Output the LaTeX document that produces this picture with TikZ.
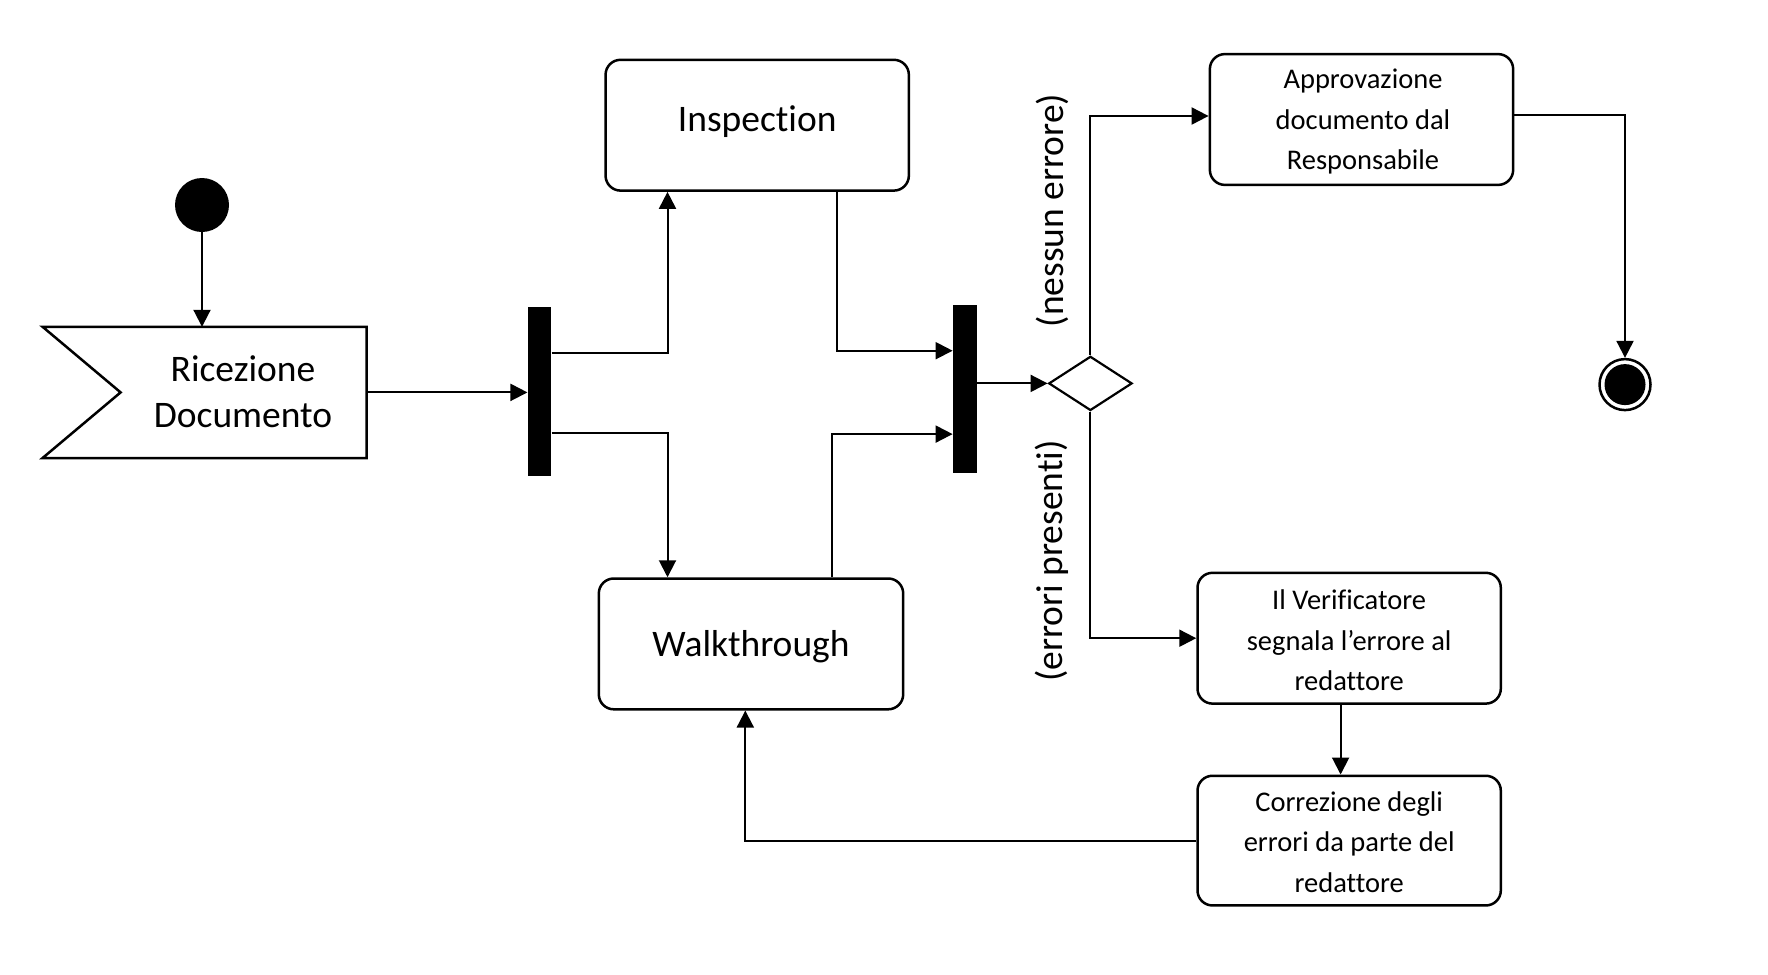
\documentclass[tikz,border=0pt]{standalone}
\usepackage{fontspec}
\setmainfont{Carlito}[Ligatures={NoCommon}]
\usetikzlibrary{arrows.meta,shapes.geometric,calc}
\begin{document}
\begin{tikzpicture}[x=1pt,y=-1pt,
  box/.style={draw,line width=2.5pt,rounded corners=15pt,inner sep=0pt},
  bigtxt/.style={font=\fontsize{37.5}{46}\selectfont,align=center,inner sep=0pt},
  smalltxt/.style={font=\fontsize{28.5}{40.6}\selectfont,align=center,inner sep=0pt},
  bar/.style={fill=black,draw=none,inner sep=0pt,minimum width=23.7pt},
  arr/.style={line width=2pt,-{Triangle[length=17pt,width=17pt]}},
  lbl/.style={rotate=90,font=\fontsize{37.5}{46}\selectfont,inner sep=0pt}]
\useasboundingbox (0,0) rectangle (1768,974);
\fill[white] (0,0) rectangle (1768,974);
% nodes
\node (start) [circle,fill=black,inner sep=0pt,minimum size=54pt] at (202,205) {};
\node (ricbox) [inner sep=0pt,minimum width=323.7pt,minimum height=130.8pt] at (204.65,392.4) {};
\draw[line width=2.5pt] (ricbox.north west) -- (ricbox.north east) -- (ricbox.south east) -- (ricbox.south west) -- ($(ricbox.west)+(78,0)$) -- cycle;
\node (rictext) [bigtxt] at (243,392) {Ricezione\\Documento};
\node (fork1) [bar,minimum height=169pt] at (539.5,391.2) {};
\node (insp) [box,minimum width=303.3pt,minimum height=130.8pt] at (757.2,125.2) {};
\node (insptext) [bigtxt] at ($(insp)+(0,-3.4)$) {Inspection};
\node (walk) [box,minimum width=304.4pt,minimum height=130.8pt] at (751,643.9) {};
\node (walktext) [bigtxt] at ($(walk)+(0,2.3)$) {Walkthrough};
\node (join) [bar,minimum height=168pt] at (964.65,388.5) {};
\node (dia) [diamond,draw,line width=2.2pt,inner sep=0pt,minimum width=83.4pt,minimum height=54.2pt] at (1090.4,383.4) {};
\node (appr) [box,minimum width=303.3pt,minimum height=130.8pt] at (1361.5,119.5) {};
\node (apprtext) [smalltxt] at ($(appr)+(1.5,2.3)$) {Approvazione\\documento dal\\Responsabile};
\node (final) [circle,draw,line width=2.5pt,inner sep=0pt,minimum size=51pt,
  path picture={\fill[black] (path picture bounding box.center) circle (20.5);}] at (1625,384.6) {};
\node (veri) [box,minimum width=303.3pt,minimum height=130.8pt] at (1349.15,638.2) {};
\node (veritext) [smalltxt] at ($(veri)+(0,2.3)$) {Il Verificatore\\segnala l’errore al\\redattore};
\node (corr) [box,minimum width=303.3pt,minimum height=129.7pt] at (1349.15,840.6) {};
\node (corrtext) [smalltxt] at ($(corr)+(0,1.5)$) {Correzione degli\\errori da parte del\\redattore};
\node (lbl1) [lbl] at (1052,210.5) {(nessun errore)};
\node (lbl2) [lbl] at (1052,561) {(errori presenti)};
% connectors
\draw[arr] (start) -- (start |- ricbox.north);
\draw[arr] (ricbox.east) -- (ricbox.east -| fork1.west);
\draw[arr] (fork1.east |- 0,353) -| (insp.south -| 667.5,0);
\draw[arr] (fork1.east |- 0,433) -| (walk.north -| 667.5,0);
\draw[arr] (insp.south -| 836.7,0) |- (join.west |- 0,350.7);
\draw[arr] (walk.north -| 832.2,0) |- (join.west |- 0,434.1);
\draw[arr] (join.east |- dia.west) -- (dia.west);
\draw[arr] (dia.north) |- (appr.west |- 0,116);
\draw[arr] (dia.south) |- (veri.west);
\draw[arr] (appr.east |- 0,115) -| (final.north);
\draw[arr] (veri.south -| 1340.6,0) -- (corr.north -| 1340.6,0);
\draw[arr] (corr.west) -| (walk.south -| 745.3,0);
\end{tikzpicture}
\end{document}
